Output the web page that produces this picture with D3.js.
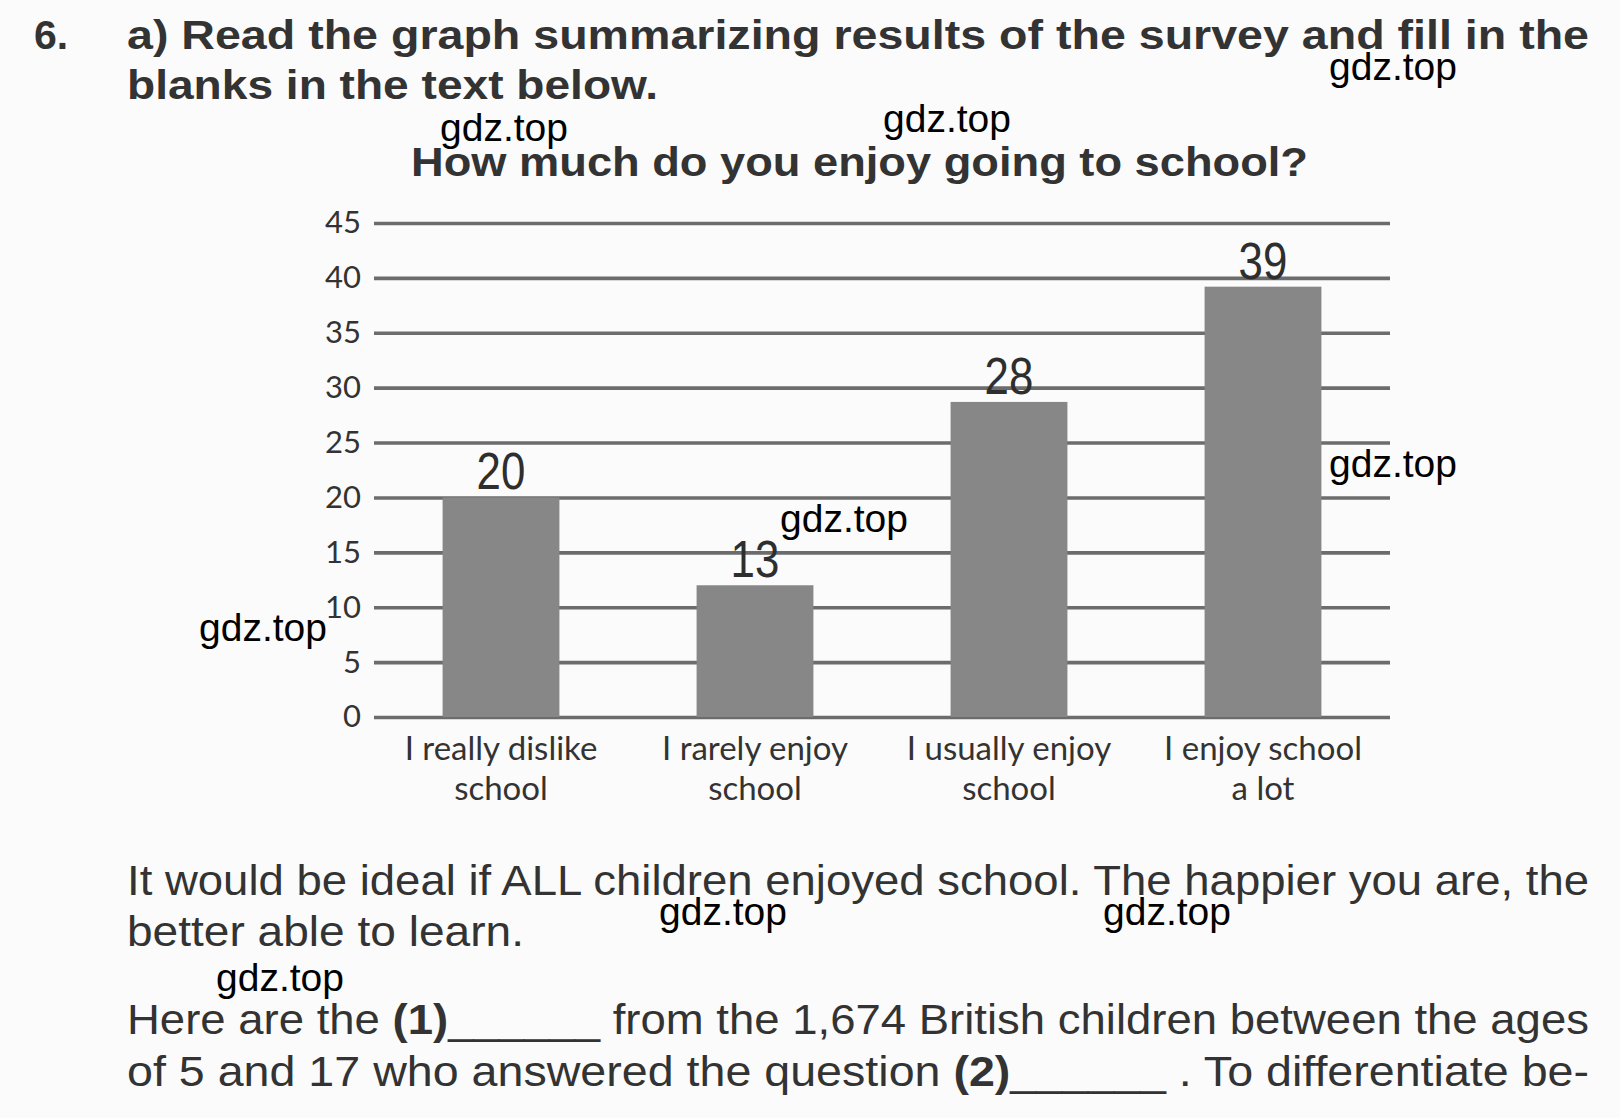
<!DOCTYPE html>
<html>
<head>
<meta charset="utf-8">
<script src="https://cdn.jsdelivr.net/npm/d3@7"></script>
<style>
  html, body { margin: 0; padding: 0; background: #fbfbfb; }
  svg { display: block; }
</style>
</head>
<body>
<script>
// ---- data ----
const categories = ["I really dislike|school", "I rarely enjoy|school", "I usually enjoy|school", "I enjoy school|a lot"];
const barValues = [20, 12, 28.7, 39.2];        // heights as drawn in the picture
const valueLabels = ["20", "13", "28", "39"];   // printed numbers above bars
const yTicks = [0, 5, 10, 15, 20, 25, 30, 35, 40, 45];
const chartTitle = "How much do you enjoy going to school?";
const headerLines = ["a) Read the graph summarizing results of the survey and fill in the", "blanks in the text below."];
const watermarks = [[1329, 80], [440, 141], [883, 132], [1329, 477], [780, 532], [199, 641], [659, 925], [1103, 925], [216, 991]];

const W = 1620, H = 1118;
const svg = d3.select("body").append("svg").attr("width", W).attr("height", H);
svg.append("rect").attr("width", W).attr("height", H).attr("fill", "#fbfbfb");

const textCol = "#333";
const helv = "'Liberation Sans', Arial, Helvetica, sans-serif";

// ---- header ----
svg.append("text").attr("x", 34).attr("y", 49).attr("font-family", helv).attr("font-weight", "bold")
  .attr("font-size", 41).attr("fill", textCol).text("6.");
svg.append("text").attr("x", 127).attr("y", 49).attr("font-family", helv).attr("font-weight", "bold")
  .attr("font-size", 41).attr("fill", textCol).attr("textLength", 1462).attr("lengthAdjust", "spacingAndGlyphs")
  .text(headerLines[0]);
svg.append("text").attr("x", 127).attr("y", 99).attr("font-family", helv).attr("font-weight", "bold")
  .attr("font-size", 41).attr("fill", textCol).attr("textLength", 531).attr("lengthAdjust", "spacingAndGlyphs")
  .text(headerLines[1]);

// ---- chart title ----
svg.append("text").attr("x", 411).attr("y", 176).attr("font-family", helv).attr("font-weight", "bold")
  .attr("font-size", 41).attr("fill", textCol).attr("textLength", 897).attr("lengthAdjust", "spacingAndGlyphs")
  .text(chartTitle);

// ---- scales ----
const x0 = 374, x1 = 1390, yTop = 223, yBot = 717;
const y = d3.scaleLinear().domain([0, 45]).range([yBot, yTop]);
const x = d3.scaleBand().domain(categories).range([x0, x1]).paddingInner(0.54).paddingOuter(0.27);

const g = svg.append("g");

// gridlines via axis
const yAxis = d3.axisLeft(y).tickValues(yTicks).tickSize(-(x1 - x0)).tickPadding(14);
const ya = g.append("g").attr("transform", `translate(${x0},0)`).call(yAxis);
ya.select(".domain").remove();
ya.selectAll(".tick line").attr("stroke", "#6c6c6c").attr("stroke-width", 3.6);
ya.selectAll(".tick text").attr("font-family", "Lato, 'Open Sans', sans-serif").attr("font-size", 31)
  .attr("fill", textCol).attr("x", -13);

// bars
g.selectAll("rect.bar").data(barValues).enter().append("rect").attr("class", "bar")
  .attr("x", (d, i) => x(categories[i])).attr("width", x.bandwidth())
  .attr("y", d => y(d)).attr("height", d => y(0) - y(d))
  .attr("fill", "#878787");

// value labels (condensed look)
g.selectAll("text.val").data(barValues).enter().append("text").attr("class", "val")
  .attr("transform", (d, i) => `translate(${x(categories[i]) + x.bandwidth() / 2},${y(d) - 8}) scale(0.86,1)`)
  .attr("text-anchor", "middle").attr("font-family", helv)
  .attr("font-size", 51).attr("fill", "#2e2e2e").text((d, i) => valueLabels[i]);

// category labels
const xa = g.append("g");
categories.forEach(c => {
  const parts = c.split("|");
  const cx = x(c) + x.bandwidth() / 2;
  parts.forEach((p, j) => {
    xa.append("text").attr("x", cx).attr("y", 760 + j * 40).attr("text-anchor", "middle")
      .attr("font-family", "Lato, 'Open Sans', sans-serif").attr("font-size", 33).attr("fill", textCol).text(p);
  });
});

// ---- paragraph text ----
function para(yy, parts, len) {
  const t = svg.append("text").attr("x", 127).attr("y", yy).attr("font-family", helv)
    .attr("font-size", 42).attr("fill", textCol);
  if (len) t.attr("textLength", len).attr("lengthAdjust", "spacingAndGlyphs");
  parts.forEach(p => t.append("tspan").attr("font-weight", p[1] ? "bold" : "normal").text(p[0]));
}
para(895, [["It would be ideal if ALL children enjoyed school. The happier you are, the", 0]], 1462);
para(946, [["better able to learn.", 0]], 397);
para(1034, [["Here are the ", 0], ["(1)", 1], ["______", 0], [" from the 1,674 British children between the ages", 0]], 1462);
para(1086, [["of 5 and 17 who answered the question ", 0], ["(2)", 1], ["______", 0], [" . To differentiate be-", 0]], 1462);

// ---- watermarks ----
svg.selectAll("text.wm").data(watermarks).enter().append("text").attr("class", "wm")
  .attr("x", d => d[0]).attr("y", d => d[1]).attr("font-family", helv).attr("font-size", 39)
  .attr("fill", "#000").text("gdz.top");
</script>
</body>
</html>
